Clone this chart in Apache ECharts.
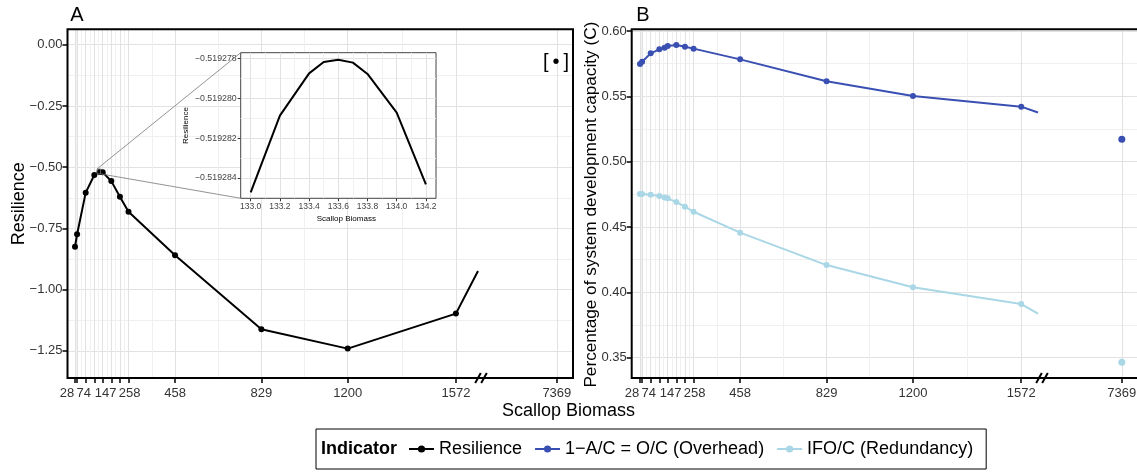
<!DOCTYPE html>
<html><head><meta charset="utf-8">
<script src="https://cdn.jsdelivr.net/npm/echarts@6/dist/echarts.min.js"></script>
<style>html,body{margin:0;padding:0;background:#fff}#c{width:1137px;height:472px}</style>
</head><body><div id="c"></div>
<script>
// ---------------- DATA ----------------
const biomass      = [28, 37, 74, 111, 133.6, 147, 184, 221, 258, 458, 829, 1200, 1665];
const resilience   = [-0.825, -0.774, -0.604, -0.532, -0.51928, -0.5205, -0.557, -0.621, -0.682, -0.860, -1.162, -1.241, -1.098];
const overhead     = [0.5747, 0.5765, 0.5829, 0.5860, 0.5872, 0.5885, 0.5893, 0.5880, 0.5865, 0.5783, 0.5615, 0.5503, 0.5421];
const redundancy   = [0.4753, 0.4753, 0.4747, 0.4737, 0.4727, 0.4720, 0.4691, 0.4656, 0.4617, 0.4457, 0.4209, 0.4039, 0.3911];
// value of each line where it is cut by the axis break
const resilienceAtBreak = -0.924;
const overheadAtBreak   = 0.5376;
const redundancyAtBreak = 0.3837;
// points after the break
const tailBiomass    = [7369];
const overheadTail   = [0.5171];
const redundancyTail = [0.3465];
// inset (zoom on resilience peak)
const insetBiomass    = [133.0, 133.2, 133.4, 133.5, 133.6, 133.7, 133.8, 134.0, 134.2];
const insetResilience = [-0.51928473, -0.51928087, -0.51927874, -0.51927817, -0.51927805, -0.51927820, -0.51927877, -0.51928072, -0.51928433];
// tick values / labels
const xMainTicks      = [28, 37, 74, 111, 147, 184, 221, 258, 458, 829, 1200, 1665];
const xMainTickLabels = ['28', '', '74', '', '147', '', '', '258', '458', '829', '1200', '1572'];
const xTailTicks      = [7369];
const yTicksA   = [-1.25, -1.0, -0.75, -0.5, -0.25, 0];
const yTicksB   = [0.35, 0.40, 0.45, 0.50, 0.55, 0.60];
const insetXTicks = [133.0, 133.2, 133.4, 133.6, 133.8, 134.0, 134.2];
const insetYTicks = [-0.519284, -0.519282, -0.51928, -0.519278];
const seriesNames = ['Resilience', '1\u2212A/C = O/C (Overhead)', 'IFO/C (Redundancy)'];

// ---------------- LAYOUT / STYLE ----------------
const FONT = '"Liberation Sans", Arial, Helvetica, sans-serif';
const MAJ = '#e2e2e2', MIN = '#f0f0f0';
const TOP = 29.3, H = 348.7, BOTTOM = TOP + H;
const PA = {left: 67.5, brk: 478, right: 573, xmin: -4.23, xmax: 1760};
const PB = {left: 631.7, brk: 1038, right: 1139, xmin: -7.64, xmax: 1737};
const TAIL = {min: 7037, max: 7437};
const YA = {min: -1.361, max: 0.063};
const YB = {min: 0.3345, max: 0.6013};
const INS = {left: 240.7, top: 52.7, width: 195.3, height: 145.6, xmin: 132.9315, xmax: 134.2692, ymin: -0.51928503, ymax: -0.5192777};
// horizontal nudges (px) of crowded tick labels, as in the reference
const LABEL_NUDGE = {'28': -8, '74': -2, '147': 3, '258': 1};

function interleave(arr) { // majors with midpoints between (minor grid lines)
  const out = [];
  arr.forEach((v, i) => { out.push(v); if (i < arr.length - 1) out.push((v + arr[i + 1]) / 2); });
  return out;
}
const minus = s => s.replace('-', '\u2212');
const fmt2 = v => minus((Math.abs(v) < 1e-9 ? 0 : v).toFixed(2));
const fmt6 = v => minus(v.toFixed(6));
const labelBase = {color: '#333', fontSize: 13, fontFamily: FONT};
const rich = {
  l: Object.assign({}, labelBase),
  nm8: Object.assign({padding: [0, 16, 0, 0]}, labelBase),
  nm2: Object.assign({padding: [0, 4, 0, 0]}, labelBase),
  np3: Object.assign({padding: [0, 0, 0, 6]}, labelBase),
  np1: Object.assign({padding: [0, 0, 0, 2]}, labelBase)
};
const fmtMainX = v => {
  const i = xMainTicks.indexOf(v);
  if (i < 0 || !xMainTickLabels[i]) return '';
  const t = xMainTickLabels[i], n = LABEL_NUDGE[t];
  const key = n === -8 ? 'nm8' : n === -2 ? 'nm2' : n === 3 ? 'np3' : n === 1 ? 'np1' : 'l';
  return '{' + key + '|' + t + '}';
};

const tickStyle = {color: '#000', width: 1.5};

function xLabelAxis(grid, min, max, ticks, formatter) {
  return {gridIndex: grid, type: 'value', min, max, position: 'bottom',
    axisLine: {show: false, onZero: false}, splitLine: {show: false},
    axisTick: {show: true, customValues: ticks, length: 5, lineStyle: tickStyle},
    axisLabel: Object.assign({customValues: ticks, formatter, margin: 9, hideOverlap: false, rich}, labelBase)};
}
function xGridAxis(grid, min, max, vals) {
  return {gridIndex: grid, type: 'value', min, max, position: 'bottom',
    axisLine: {show: false, onZero: false}, axisTick: {show: false, customValues: vals},
    axisLabel: {show: false}, splitLine: {show: true, lineStyle: {color: [MAJ, MIN], width: 1}}};
}
function hiddenAxis(grid, min, max) {
  return {gridIndex: grid, type: 'value', min, max, show: false, axisLine: {onZero: false}};
}
function yLabelAxis(grid, min, max, ticks) {
  return {gridIndex: grid, type: 'value', min, max, position: 'left',
    axisLine: {show: false, onZero: false}, splitLine: {show: false},
    axisTick: {show: true, customValues: ticks, length: 5, lineStyle: tickStyle},
    axisLabel: Object.assign({customValues: ticks, formatter: fmt2, margin: 5}, labelBase)};
}
function yGridAxis(grid, min, max, vals) {
  return {gridIndex: grid, type: 'value', min, max, position: 'left',
    axisLine: {show: false, onZero: false}, axisTick: {show: false, customValues: vals},
    axisLabel: {show: false}, splitLine: {show: true, lineStyle: {color: [MAJ, MIN], width: 1}}};
}

const grids = [
  {left: PA.left, top: TOP, width: PA.right - PA.left, height: H, show: true, borderColor: '#000', borderWidth: 2, backgroundColor: 'transparent', z: 1}, //0 frame A
  {left: PA.left, top: TOP, width: PA.brk - PA.left, height: H},   //1 main A
  {left: PA.brk, top: TOP, width: PA.right - PA.brk, height: H},   //2 tail A
  {left: PB.left, top: TOP, width: PB.right - PB.left, height: H, show: true, borderColor: '#000', borderWidth: 2, backgroundColor: 'transparent', z: 1}, //3 frame B
  {left: PB.left, top: TOP, width: PB.brk - PB.left, height: H},   //4 main B
  {left: PB.brk, top: TOP, width: PB.right - PB.brk, height: H},   //5 tail B
  {left: INS.left, top: INS.top, width: INS.width, height: INS.height, show: true, borderColor: '#444', borderWidth: 1, backgroundColor: '#fff', z: 10} //6 inset
].map(g => Object.assign({outerBoundsMode: 'none', containLabel: false}, g));

const xAxes = [
  hiddenAxis(0, 0, 1),                                                        //0
  xLabelAxis(1, PA.xmin, PA.xmax, xMainTicks, fmtMainX),                      //1
  xGridAxis(1, PA.xmin, PA.xmax, interleave(xMainTicks)),                     //2
  Object.assign(xLabelAxis(2, TAIL.min, TAIL.max, xTailTicks, v => String(v)), {splitLine: {show: true, lineStyle: {color: MAJ}}}), //3
  hiddenAxis(3, 0, 1),                                                        //4
  xLabelAxis(4, PB.xmin, PB.xmax, xMainTicks, fmtMainX),                      //5
  xGridAxis(4, PB.xmin, PB.xmax, interleave(xMainTicks)),                     //6
  Object.assign(xLabelAxis(5, TAIL.min, TAIL.max, xTailTicks, v => String(v)), {splitLine: {show: true, lineStyle: {color: MAJ}}}), //7
  {gridIndex: 6, type: 'value', min: INS.xmin, max: INS.xmax, position: 'bottom', z: 11,
    axisLine: {show: false, onZero: false}, splitLine: {show: false},
    axisTick: {show: true, customValues: insetXTicks, length: 3, lineStyle: {color: '#333', width: 1}},
    axisLabel: {customValues: insetXTicks, formatter: v => v.toFixed(1), margin: 4, color: '#444', fontSize: 8.5, fontFamily: FONT}}, //8
  Object.assign(xGridAxis(6, INS.xmin, INS.xmax, interleave(insetXTicks)), {z: 10}) //9
];
const yAxes = [
  yLabelAxis(0, YA.min, YA.max, yTicksA),               //0
  yGridAxis(0, YA.min, YA.max, interleave(yTicksA)),    //1
  hiddenAxis(1, YA.min, YA.max),                        //2
  hiddenAxis(2, YA.min, YA.max),                        //3
  yLabelAxis(3, YB.min, YB.max, yTicksB),               //4
  yGridAxis(3, YB.min, YB.max, interleave(yTicksB)),    //5
  hiddenAxis(4, YB.min, YB.max),                        //6
  hiddenAxis(5, YB.min, YB.max),                        //7
  {gridIndex: 6, type: 'value', min: INS.ymin, max: INS.ymax, position: 'left', z: 11,
    axisLine: {show: false, onZero: false}, splitLine: {show: false},
    axisTick: {show: true, customValues: insetYTicks, length: 3, lineStyle: {color: '#333', width: 1}},
    axisLabel: {customValues: insetYTicks, formatter: fmt6, margin: 4, color: '#444', fontSize: 8.8, fontFamily: FONT}}, //8
  Object.assign(yGridAxis(6, INS.ymin, INS.ymax, interleave(insetYTicks)), {z: 10}) //9
];

const C_RES = '#000000', C_OVH = '#3A4FB2', C_RED = '#A9D7E6';
function lineSeries(name, xi, yi, xs, ys, endX, endY, color) {
  const data = xs.map((x, i) => [x, ys[i]]);
  data.push({value: [endX, endY], symbol: 'none'});
  return {name, type: 'line', xAxisIndex: xi, yAxisIndex: yi, data, symbol: 'circle', symbolSize: 6,
    itemStyle: {color, opacity: 1}, lineStyle: {color, width: 2}, color, z: 3, clip: true};
}

const option = {
  animation: false,
  backgroundColor: '#fff',
  textStyle: {fontFamily: FONT},
  grid: grids, xAxis: xAxes, yAxis: yAxes,
  legend: {
    left: 316, top: 429, orient: 'horizontal', padding: [11, 13, 11, 92],
    borderColor: '#000', borderWidth: 1, itemGap: 12, itemWidth: 25, itemHeight: 9,
    textStyle: {fontSize: 18, color: '#000', fontFamily: FONT},
    data: seriesNames
  },
  series: [
    lineSeries(seriesNames[0], 1, 2, biomass, resilience, PA.xmax, resilienceAtBreak, C_RES),
    lineSeries(seriesNames[1], 5, 6, biomass, overhead, PB.xmax, overheadAtBreak, C_OVH),
    lineSeries(seriesNames[2], 5, 6, biomass, redundancy, PB.xmax, redundancyAtBreak, C_RED),
    {name: seriesNames[1], type: 'scatter', xAxisIndex: 7, yAxisIndex: 7, symbolSize: 7,
      data: tailBiomass.map((x, i) => [x, overheadTail[i]]), itemStyle: {color: C_OVH, opacity: 1}, z: 3},
    {name: seriesNames[2], type: 'scatter', xAxisIndex: 7, yAxisIndex: 7, symbolSize: 7,
      data: tailBiomass.map((x, i) => [x, redundancyTail[i]]), itemStyle: {color: C_RED, opacity: 1}, z: 3},
    {type: 'line', xAxisIndex: 8, yAxisIndex: 8, data: insetBiomass.map((x, i) => [x, insetResilience[i]]),
      symbol: 'none', lineStyle: {color: '#000', width: 2}, z: 12, clip: true}
  ]
};

const chart = echarts.init(document.getElementById('c'));
chart.setOption(option);

// ---------------- DECORATIONS ----------------
const peak = chart.convertToPixel({xAxisIndex: 1, yAxisIndex: 2}, [insetBiomass[4], insetResilience[4]]);
const rx0 = peak[0] - 2.5, ry0 = peak[1] - 3, rx1 = peak[0] + 1, ry1 = peak[1] + 2;
function brkMarks(x) {
  return [-3, 3].map(d => ({type: 'line', z: 50,
    shape: {x1: x + d - 2.8, y1: BOTTOM + 5, x2: x + d + 2.8, y2: BOTTOM - 5},
    style: {stroke: '#000', lineWidth: 2}}));
}
function txt(x, y, text, size, extra) {
  return {type: 'text', x, y, z: 60,
    style: Object.assign({text, fontSize: size, fontFamily: FONT, fill: '#000', align: 'center', verticalAlign: 'middle'}, extra || {})};
}
const midY = TOP + H / 2;
chart.setOption({graphic: [
  txt(77, 15.5, 'A', 20),
  txt(643, 15.5, 'B', 20),
  Object.assign(txt(19, midY, 'Resilience', 18), {rotation: Math.PI / 2}),
  Object.assign(txt(591, midY + 1, 'Percentage of system development capacity (C)', 17.2), {rotation: Math.PI / 2}),
  txt(568.5, 411, 'Scallop Biomass', 18),
  txt(556, 62.5, '[\u2009\u2022\u2009]', 20),
  Object.assign(txt(186, INS.top + INS.height / 2, 'Resilience', 8), {rotation: Math.PI / 2}),
  txt(INS.left + INS.width / 2 + 8, 219, 'Scallop Biomass', 8),
  txt(321, 449.5, 'Indicator', 18, {align: 'left', fontWeight: 'bold'}),
  ...brkMarks(PA.brk + 3),
  ...brkMarks(PB.brk + 4),
  {type: 'rect', z: 40, shape: {x: rx0, y: ry0, width: rx1 - rx0, height: ry1 - ry0}, style: {fill: 'none', stroke: '#777', lineWidth: 0.8}},
  {type: 'line', z: 40, shape: {x1: rx0, y1: ry0, x2: INS.left, y2: INS.top}, style: {stroke: '#777', lineWidth: 0.8}},
  {type: 'line', z: 40, shape: {x1: rx1, y1: ry1, x2: INS.left, y2: INS.top + INS.height}, style: {stroke: '#777', lineWidth: 0.8}}
]});
</script>
</body></html>
